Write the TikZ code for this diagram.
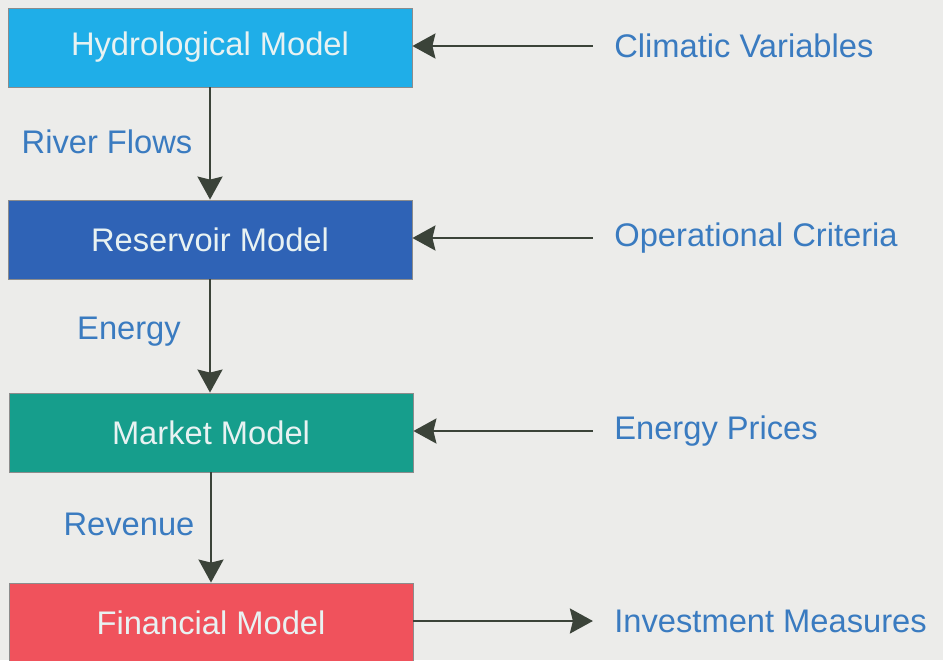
\documentclass[tikz,border=0pt]{standalone}
\usepackage{fontspec}
\setmainfont{Liberation Sans}
\usetikzlibrary{arrows.meta}
\definecolor{bg}{HTML}{ECECEA}
\definecolor{hydc}{HTML}{1FAEE8}
\definecolor{resc}{HTML}{2F63B6}
\definecolor{mktc}{HTML}{169E8C}
\definecolor{finc}{HTML}{F0525C}
\definecolor{lblc}{HTML}{3A7BC0}
\definecolor{arrc}{HTML}{3B4339}
\definecolor{boxtxt}{HTML}{E8F2F2}
\tikzset{
  modelbox/.style={draw=black!45, line width=0.5pt, minimum width=8.08cm, minimum height=1.58cm, inner sep=0pt, text=boxtxt, font=\fontsize{18.6}{22}\selectfont},
  lbl/.style={text=lblc, inner sep=0pt, font=\fontsize{18.6}{22}\selectfont},
  arr/.style={draw=arrc, line width=1.3pt, -{Stealth[length=0.46cm, width=0.5cm, inset=0.06cm]}}
}
\begin{document}
\begin{tikzpicture}[x=0.02cm, y=-0.02cm]
\fill[bg] (0,0) rectangle (943,660);
\useasboundingbox (0,0) rectangle (943,660);
\begin{scope}
\clip (0,0) rectangle (943,660);
\node[modelbox, fill=hydc] (hyd) at (210,47.5) {Hydrological Model};
\node[modelbox, fill=resc] (res) at (210,239.5) {Reservoir Model};
\node[modelbox, fill=mktc] (mkt) at (211,432.5) {Market Model};
\node[modelbox, fill=finc] (fin) at (211,622.5) {Financial Model};

\node[lbl, anchor=west] (cv) at (614,46) {Climatic Variables};
\node[lbl, anchor=west] (oc) at (614,238) {Operational Criteria};
\node[lbl, anchor=west] (ep) at (614,431) {Energy Prices};
\node[lbl, anchor=west] (im) at (614,621) {Investment Measures};

\node[lbl] (rf) at (107,142) {River Flows};
\node[lbl] (en) at (129,332) {Energy};
\node[lbl] (rv) at (129,524) {Revenue};

\draw[arr] (hyd.south) -- (res.north);
\draw[arr] (res.south) -- ([xshift=-0.02cm]mkt.north);
\draw[arr] (mkt.south) -- (fin.north);

\draw[arr, shorten <=12pt] (cv.west) -- (cv.west -| hyd.east);
\draw[arr, shorten <=12pt] (oc.west) -- (oc.west -| res.east);
\draw[arr, shorten <=12pt] (ep.west) -- (ep.west -| mkt.east);
\draw[arr, shorten >=12pt] (im.west -| fin.east) -- (im.west);
\end{scope}
\end{tikzpicture}
\end{document}
